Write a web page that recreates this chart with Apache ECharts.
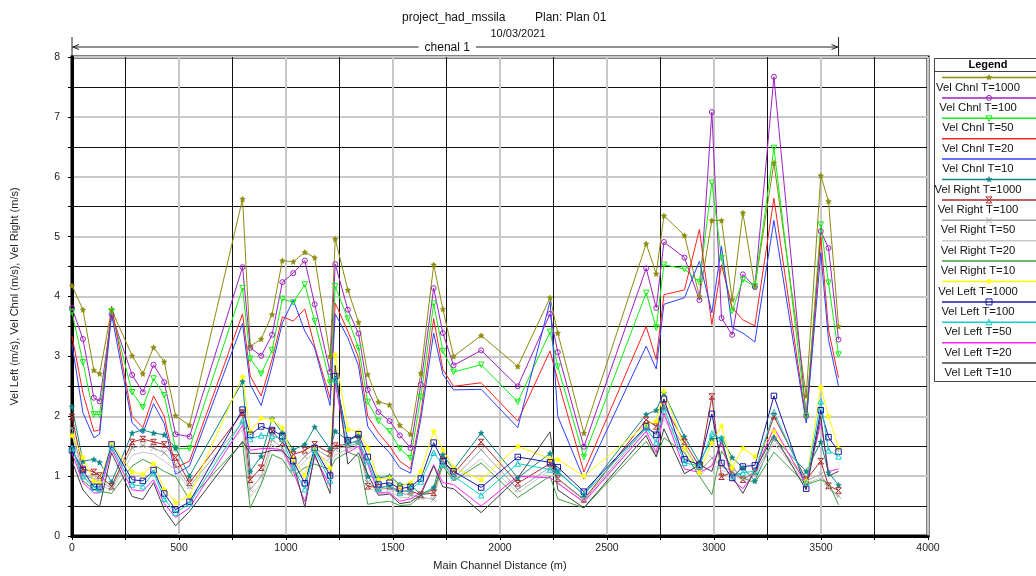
<!DOCTYPE html>
<html>
<head>
<meta charset="utf-8">
<script src="https://cdn.jsdelivr.net/npm/echarts@6/dist/echarts.min.js"></script>
<style>html,body{margin:0;padding:0;background:#fff}#c{width:1036px;height:576px}</style>
</head>
<body>
<div id="c"></div>
<script>
// Main channel distance of each cross section (m)
const stations = [
  0, 51, 102, 129, 185, 281, 331, 381, 431, 484, 549, 797, 833,
  884, 935, 983, 1034, 1088, 1134, 1206, 1230, 1289, 1339, 1382, 1432, 1484,
  1532, 1582, 1630, 1690, 1733, 1783, 1912, 2083, 2234, 2270, 2392, 2683, 2730,
  2766, 2862, 2932, 2990, 3035, 3085, 3135, 3191, 3280, 3431, 3499, 3535, 3582
];
const velChnl1000 = [
  4.18, 3.78, 2.77, 2.71, 3.78, 3.01, 2.71, 3.15, 2.91, 2.01, 1.85, 5.63, 3.17,
  3.29, 3.70, 4.60, 4.58, 4.74, 4.65, 3.00, 4.96, 4.11, 3.57, 2.70, 2.24, 2.19,
  1.85, 1.70, 2.72, 4.53, 3.79, 3.00, 3.35, 2.83, 3.98, 3.39, 1.72, 4.88, 4.38,
  5.35, 5.02, 4.00, 5.27, 5.27, 3.95, 5.40, 4.16, 6.23, 2.34, 6.02, 5.59, 3.50
];
const velChnl100 = [
  3.81, 3.29, 2.31, 2.25, 3.70, 2.69, 2.40, 2.86, 2.57, 1.70, 1.66, 4.49, 3.14,
  3.01, 3.36, 4.24, 4.39, 4.60, 3.87, 2.74, 4.54, 3.78, 3.38, 2.44, 2.07, 1.92,
  1.68, 1.47, 2.53, 4.14, 3.39, 2.85, 3.10, 2.50, 3.71, 3.07, 1.49, 4.47, 3.81,
  4.91, 4.65, 3.94, 7.08, 3.64, 3.36, 4.37, 4.16, 7.67, 2.00, 5.09, 4.81, 3.28
];
const velChnl50 = [
  3.74, 2.90, 2.03, 2.03, 3.75, 2.40, 2.15, 2.63, 2.35, 1.46, 1.46, 4.14, 2.96,
  2.71, 3.10, 3.96, 3.90, 4.20, 3.59, 2.56, 4.17, 3.63, 3.14, 2.24, 1.92, 1.75,
  1.46, 1.30, 2.32, 3.88, 3.09, 2.74, 2.86, 2.24, 3.41, 2.83, 1.32, 4.06, 3.48,
  4.53, 4.46, 4.24, 5.90, 4.64, 3.76, 4.28, 4.17, 6.48, 2.00, 5.20, 4.23, 3.03
];
const velChnl20 = [
  3.34, 2.39, 1.75, 1.77, 3.84, 2.00, 1.81, 2.34, 2.00, 1.14, 1.25, 3.71, 2.67,
  2.34, 2.95, 3.66, 3.59, 3.79, 3.17, 2.30, 3.89, 3.42, 2.98, 2.00, 1.72, 1.50,
  1.25, 1.12, 2.05, 3.63, 2.78, 2.50, 2.56, 1.92, 3.09, 2.60, 1.07, 3.50, 2.95,
  4.03, 4.11, 5.12, 3.53, 4.53, 3.81, 3.61, 3.51, 5.64, 1.92, 5.00, 3.45, 2.64
];
const velChnl10 = [
  3.20, 2.06, 1.64, 1.70, 3.70, 1.89, 1.71, 2.21, 1.88, 1.03, 1.17, 3.55, 2.53,
  2.18, 2.84, 3.56, 3.94, 3.42, 3.14, 2.18, 3.71, 3.31, 2.84, 1.83, 1.58, 1.39,
  1.14, 1.05, 1.95, 3.39, 2.70, 2.44, 2.45, 1.81, 3.92, 2.00, 0.95, 3.17, 2.79,
  3.87, 3.98, 4.59, 3.73, 4.84, 3.48, 3.39, 3.24, 5.27, 1.89, 4.73, 3.28, 2.50
];
const velRight1000 = [
  2.16, 1.25, 1.28, 1.23, 0.90, 1.72, 1.77, 1.72, 1.69, 1.47, 1.00, 2.58, 1.08,
  1.33, 1.96, 1.72, 1.44, 1.53, 1.82, 1.45, 1.75, 1.60, 1.67, 1.00, 0.97, 1.00,
  0.86, 0.86, 0.69, 0.81, 1.36, 1.11, 1.72, 0.97, 1.38, 1.07, 0.69, 2.03, 2.10,
  2.39, 1.66, 1.23, 1.62, 1.64, 1.31, 1.14, 0.92, 1.64, 1.08, 1.57, 1.06, 0.85
];
const velRight100 = [
  1.99, 1.12, 1.07, 1.01, 0.83, 1.57, 1.62, 1.57, 1.53, 1.31, 0.89, 2.06, 0.94,
  1.14, 1.75, 1.56, 1.36, 1.43, 1.53, 1.38, 1.51, 1.53, 1.60, 0.83, 0.81, 0.83,
  0.75, 0.75, 0.69, 0.72, 1.26, 1.04, 1.57, 0.88, 1.21, 0.96, 0.61, 1.94, 1.83,
  2.18, 1.57, 1.16, 2.33, 0.99, 1.07, 0.94, 1.07, 2.00, 0.94, 1.25, 0.84, 0.76
];
const velRight50 = [
  1.80, 1.02, 0.95, 0.92, 0.80, 1.47, 1.51, 1.47, 1.39, 1.19, 0.83, 1.90, 0.78,
  0.99, 1.61, 1.47, 1.11, 1.33, 1.46, 1.31, 1.45, 1.50, 1.55, 0.89, 0.78, 0.80,
  0.72, 0.68, 0.65, 0.61, 1.25, 0.96, 1.44, 0.78, 1.15, 0.95, 0.60, 1.80, 1.70,
  2.00, 1.50, 1.08, 1.30, 1.17, 1.08, 0.95, 1.05, 1.61, 0.92, 1.03, 0.81, 0.67
];
const velRight20 = [
  1.70, 0.97, 0.88, 0.86, 0.76, 1.35, 1.40, 1.37, 1.25, 1.10, 0.78, 1.78, 0.65,
  0.88, 1.53, 1.40, 1.05, 1.25, 1.40, 1.22, 1.35, 1.45, 1.50, 0.83, 0.70, 0.75,
  0.65, 0.63, 0.62, 0.63, 1.20, 0.93, 1.29, 0.72, 1.10, 0.90, 0.55, 1.75, 1.60,
  1.95, 1.40, 1.00, 1.20, 1.10, 1.03, 0.92, 1.00, 1.55, 0.88, 0.97, 0.78, 0.65
];
const velRight10 = [
  1.50, 0.92, 0.78, 0.75, 0.71, 1.17, 1.28, 1.19, 1.08, 0.99, 0.61, 1.56, 0.47,
  0.86, 1.36, 1.28, 1.00, 1.14, 1.20, 1.11, 1.28, 1.40, 1.33, 0.53, 0.56, 0.58,
  0.51, 0.52, 0.67, 0.78, 1.17, 0.92, 1.22, 0.64, 1.00, 0.62, 0.47, 1.58, 1.33,
  1.64, 1.39, 1.00, 0.69, 1.42, 1.14, 0.97, 0.89, 1.40, 0.86, 0.94, 0.89, 0.52
];
const velLeft1000 = [
  1.68, 1.31, 0.92, 0.89, 1.54, 1.07, 1.03, 1.21, 0.78, 0.56, 0.67, 2.66, 1.75,
  1.97, 1.94, 1.81, 1.28, 1.01, 1.45, 1.14, 3.03, 1.78, 1.75, 1.47, 0.95, 0.97,
  0.83, 0.89, 1.08, 1.75, 1.44, 1.14, 0.94, 1.50, 1.29, 1.28, 1.00, 1.86, 1.92,
  2.42, 1.47, 1.06, 1.56, 1.84, 1.14, 1.47, 1.33, 1.75, 0.92, 2.49, 2.00, 1.47
];
const velLeft100 = [
  1.43, 1.10, 0.82, 0.82, 1.53, 0.94, 0.92, 1.10, 0.71, 0.44, 0.57, 2.11, 1.69,
  1.83, 1.77, 1.67, 1.25, 0.88, 1.47, 1.01, 2.67, 1.60, 1.70, 1.32, 0.86, 0.89,
  0.79, 0.82, 0.96, 1.56, 1.25, 1.08, 0.81, 1.32, 1.23, 1.15, 0.74, 1.83, 1.69,
  2.29, 1.28, 1.19, 2.04, 1.22, 0.97, 1.16, 1.18, 2.34, 0.79, 2.10, 1.65, 1.41
];
const velLeft50 = [
  1.47, 1.00, 0.81, 0.78, 1.48, 0.86, 0.83, 1.06, 0.62, 0.39, 0.54, 1.92, 1.62,
  1.68, 1.67, 1.62, 1.14, 0.78, 1.43, 0.92, 2.61, 1.55, 1.58, 1.25, 0.79, 0.85,
  0.72, 0.78, 0.91, 1.39, 1.19, 1.00, 0.68, 1.21, 1.11, 1.08, 0.69, 1.81, 1.56,
  2.14, 1.22, 1.17, 1.71, 1.62, 1.00, 1.06, 1.08, 2.07, 0.89, 2.25, 1.43, 1.33
];
const velLeft20 = [
  1.39, 0.89, 0.72, 0.72, 1.45, 0.77, 0.75, 0.94, 0.54, 0.31, 0.47, 1.85, 1.43,
  1.46, 1.46, 1.44, 1.08, 0.57, 1.33, 0.83, 2.55, 1.39, 1.50, 1.20, 0.72, 0.72,
  0.58, 0.62, 0.72, 1.19, 0.89, 0.86, 0.50, 1.00, 0.97, 0.88, 0.57, 1.75, 1.39,
  2.06, 1.12, 1.06, 1.17, 1.56, 0.94, 0.79, 1.06, 1.81, 0.86, 1.89, 1.08, 1.12
];
const velLeft10 = [
  1.25, 0.77, 0.56, 0.49, 1.39, 0.66, 0.61, 0.89, 0.44, 0.17, 0.41, 1.58, 1.38,
  1.38, 1.43, 1.42, 1.22, 0.48, 1.37, 0.71, 2.85, 1.20, 1.39, 1.03, 0.68, 0.70,
  0.54, 0.57, 0.69, 1.17, 0.82, 0.79, 0.39, 0.97, 1.74, 0.77, 0.47, 1.68, 1.32,
  1.79, 1.04, 1.19, 1.08, 1.61, 0.99, 0.71, 1.10, 1.69, 0.77, 2.00, 1.00, 1.08
];
const seriesNames = [
  'Vel Chnl T=1000', 'Vel Chnl T=100', 'Vel Chnl T=50', 'Vel Chnl T=20', 'Vel Chnl T=10',
  'Vel Right T=1000', 'Vel Right T=100', 'Vel Right T=50', 'Vel Right T=20', 'Vel Right T=10',
  'Vel Left T=1000', 'Vel Left T=100', 'Vel Left T=50', 'Vel Left T=20', 'Vel Left T=10'
];
const seriesValues = [
  velChnl1000, velChnl100, velChnl50, velChnl20, velChnl10,
  velRight1000, velRight100, velRight50, velRight20, velRight10,
  velLeft1000, velLeft100, velLeft50, velLeft20, velLeft10
];
const xTicks = [0, 500, 1000, 1500, 2000, 2500, 3000, 3500, 4000];
const yTicks = [0, 1, 2, 3, 4, 5, 6, 7, 8];
const reachName = 'chenal 1';

// styles
const colors = ['#8c8c10', '#a020c0', '#10ee10', '#ff2020', '#3040ff',
  '#108888', '#b02828', '#a0a0a0', '#c8c8c8', '#40a040',
  '#ffff00', '#1a1aa0', '#10cccc', '#ff20ff', '#404040'];
const markers = ['star', 'circle', 'triDown', null, null,
  'star', 'hourglass', 'cross', null, null,
  'star', 'square', 'triUp', null, null];

const STAR = 'path://M0,-10L2.94,-4.05L9.51,-3.09L4.76,1.55L5.88,8.09L0,5L-5.88,8.09L-4.76,1.55L-9.51,-3.09L-2.94,-4.05Z';
const HOUR = 'path://M0,0L10,0L0,10L10,10Z';
const CROSS = 'path://M0,0L10,10M10,0L0,10';

function symbolFor(m, c) {
  const hollow = {color: 'rgba(255,255,255,0)', borderColor: c, borderWidth: 1};
  switch (m) {
    case 'star': return {symbol: STAR, symbolSize: 5.5, itemStyle: {color: c, borderColor: c, borderWidth: 0.5}};
    case 'circle': return {symbol: 'circle', symbolSize: 5, itemStyle: hollow};
    case 'triDown': return {symbol: 'triangle', symbolRotate: 180, symbolSize: 5.5, itemStyle: hollow};
    case 'triUp': return {symbol: 'triangle', symbolSize: 5.5, itemStyle: hollow};
    case 'square': return {symbol: 'rect', symbolSize: 5.5, itemStyle: hollow};
    case 'hourglass': return {symbol: HOUR, symbolSize: 5.5, itemStyle: hollow};
    case 'cross': return {symbol: CROSS, symbolSize: 5.5, itemStyle: hollow};
    default: return {symbol: 'none', itemStyle: {color: c}};
  }
}

const series = seriesNames.map((name, i) => Object.assign({
  name: name,
  type: 'line',
  data: stations.map((x, k) => [x, seriesValues[i][k]]),
  lineStyle: {color: colors[i], width: 1},
  showSymbol: markers[i] !== null,
  emphasis: {disabled: true},
  animation: false
}, symbolFor(markers[i], colors[i])));

// legend drawn HEC-RAS style (line sample above the label)
function legendMarker(m, cx, cy, c) {
  const st = {fill: 'none', stroke: c, lineWidth: 1};
  switch (m) {
    case 'star': {
      const pts = [];
      for (let k = 0; k < 10; k++) {
        const r = k % 2 === 0 ? 3 : 1.3, a = -Math.PI / 2 + k * Math.PI / 5;
        pts.push([cx + r * Math.cos(a), cy + r * Math.sin(a)]);
      }
      return [{type: 'polygon', shape: {points: pts}, style: {fill: c, stroke: c, lineWidth: 0.5}}];
    }
    case 'circle': return [{type: 'circle', shape: {cx: cx, cy: cy, r: 2.5}, style: st}];
    case 'triDown': return [{type: 'polygon', shape: {points: [[cx - 3, cy - 2.5], [cx + 3, cy - 2.5], [cx, cy + 3]]}, style: st}];
    case 'triUp': return [{type: 'polygon', shape: {points: [[cx - 3, cy + 2.5], [cx + 3, cy + 2.5], [cx, cy - 3]]}, style: st}];
    case 'square': return [{type: 'rect', shape: {x: cx - 3, y: cy - 3, width: 6, height: 6}, style: st}];
    case 'hourglass': return [{type: 'polygon', shape: {points: [[cx - 3, cy - 3], [cx + 3, cy - 3], [cx - 3, cy + 3], [cx + 3, cy + 3]]}, style: st}];
    case 'cross': return [
      {type: 'line', shape: {x1: cx - 3, y1: cy - 3, x2: cx + 3, y2: cy + 3}, style: st},
      {type: 'line', shape: {x1: cx + 3, y1: cy - 3, x2: cx - 3, y2: cy + 3}, style: st}];
    default: return [];
  }
}

const FONT = 'Liberation Sans, Arial, sans-serif';
const legendGraphic = [
  {type: 'rect', shape: {x: 934.5, y: 58.5, width: 130, height: 323}, style: {fill: '#fff', stroke: '#444', lineWidth: 1}, z: 10},
  {type: 'text', x: 988, y: 65, style: {text: 'Legend', font: 'bold 11px ' + FONT, fill: '#000', align: 'center', verticalAlign: 'middle'}, z: 11},
  {type: 'line', shape: {x1: 934.5, y1: 71.5, x2: 1040, y2: 71.5}, style: {stroke: '#444', lineWidth: 1}, z: 11}
];
seriesNames.forEach((name, i) => {
  const ly = 77.5 + 20.4 * i;
  legendGraphic.push({type: 'line', shape: {x1: 942, y1: ly, x2: 1040, y2: ly}, style: {stroke: colors[i], lineWidth: 1.5}, z: 11});
  legendMarker(markers[i], 989, ly, colors[i]).forEach(g => { g.z = 12; legendGraphic.push(g); });
  legendGraphic.push({type: 'text', x: 978, y: ly + 10, style: {text: name, font: '11.3px ' + FONT, fill: '#111', align: 'center', verticalAlign: 'middle'}, z: 11});
});

const chart = echarts.init(document.getElementById('c'), null, {renderer: 'canvas'});
const labelStyle = {fontSize: 10.5, color: '#222', fontFamily: FONT, formatter: v => String(v)};
chart.setOption({
  animation: false,
  backgroundColor: '#fff',
  textStyle: {fontFamily: FONT},
  title: [
    {text: 'project_had_mssila', left: 397, top: 7, textStyle: {fontSize: 12, fontWeight: 'normal', color: '#111', fontFamily: FONT}},
    {text: 'Plan: Plan 01', left: 530, top: 7, textStyle: {fontSize: 12, fontWeight: 'normal', color: '#111', fontFamily: FONT}},
    {text: '10/03/2021', left: 'center', top: 23, textStyle: {fontSize: 11, fontWeight: 'normal', color: '#111', fontFamily: FONT}}
  ],
  grid: {left: 72, right: 108, top: 57, bottom: 39, show: true, borderColor: '#000', borderWidth: 3, backgroundColor: '#fff'},
  xAxis: {
    type: 'value', min: xTicks[0], max: xTicks[xTicks.length - 1], interval: xTicks[1] - xTicks[0],
    name: 'Main Channel Distance (m)', nameLocation: 'middle', nameGap: 24,
    nameTextStyle: {fontSize: 11, color: '#222', fontFamily: FONT},
    axisLine: {show: true, lineStyle: {color: '#000', width: 3}},
    axisTick: {show: true, length: 4, lineStyle: {color: '#000'}},
    minorTick: {show: true, splitNumber: 2, length: 4, lineStyle: {color: '#000'}},
    splitLine: {show: true, lineStyle: {color: '#c8c8c8', width: 2}},
    minorSplitLine: {show: true, lineStyle: {color: '#111', width: 1}},
    axisLabel: Object.assign({margin: 7}, labelStyle)
  },
  yAxis: {
    type: 'value', min: yTicks[0], max: yTicks[yTicks.length - 1], interval: yTicks[1] - yTicks[0],
    name: 'Vel Left (m/s), Vel Chnl (m/s), Vel Right (m/s)', nameLocation: 'middle', nameGap: 52,
    nameTextStyle: {fontSize: 11, color: '#222', fontFamily: FONT},
    axisLine: {show: true, lineStyle: {color: '#000', width: 3}},
    axisTick: {show: true, length: 4, lineStyle: {color: '#000'}},
    minorTick: {show: true, splitNumber: 2, length: 4, lineStyle: {color: '#000'}},
    splitLine: {show: true, lineStyle: {color: '#c8c8c8', width: 2}},
    minorSplitLine: {show: true, lineStyle: {color: '#111', width: 1}},
    axisLabel: Object.assign({margin: 12}, labelStyle)
  },
  series: series,
  graphic: legendGraphic
});

// reach annotation above the plot, positioned from the x axis scale
const x0 = chart.convertToPixel({xAxisIndex: 0}, stations[0]);
const x1 = chart.convertToPixel({xAxisIndex: 0}, stations[stations.length - 1]);
const ay = 47;
const stroke = {stroke: '#222', lineWidth: 1};
const reachGraphic = [
  {type: 'line', shape: {x1: x0, y1: 37, x2: x0, y2: 57}, style: stroke},
  {type: 'line', shape: {x1: x1, y1: 37, x2: x1, y2: 57}, style: stroke},
  {type: 'line', shape: {x1: x0, y1: ay, x2: x1, y2: ay}, style: stroke},
  {type: 'polyline', shape: {points: [[x0 + 7, ay - 2.5], [x0 + 1, ay], [x0 + 7, ay + 2.5]]}, style: Object.assign({fill: 'none'}, stroke)},
  {type: 'polyline', shape: {points: [[x1 - 7, ay - 2.5], [x1 - 1, ay], [x1 - 7, ay + 2.5]]}, style: Object.assign({fill: 'none'}, stroke)},
  {type: 'text', x: (x0 + x1) / 2 - 8, y: ay + 1, style: {text: reachName, font: '12px ' + FONT, fill: '#111', align: 'center', verticalAlign: 'middle', backgroundColor: '#fff', padding: [0, 6]}}
];
chart.setOption({graphic: legendGraphic.concat(reachGraphic)});
</script>
</body>
</html>
